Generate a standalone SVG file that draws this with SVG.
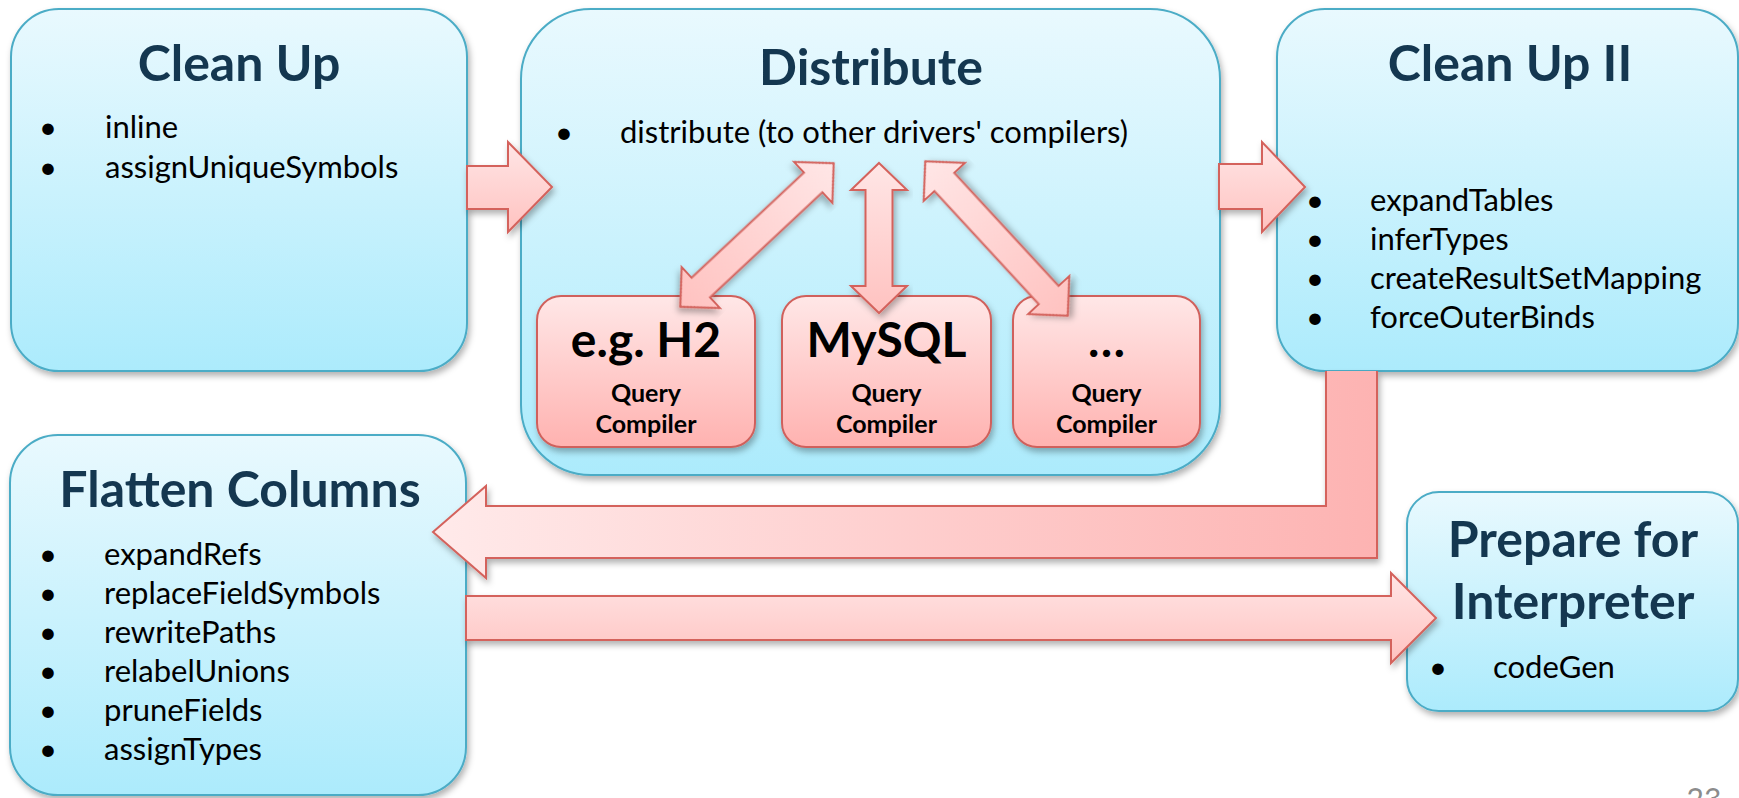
<svg xmlns="http://www.w3.org/2000/svg" width="1739" height="798" viewBox="0 0 1739 798">
<style>
.box{stroke:#4bacc6;stroke-width:2;fill:url(#gBlue);filter:url(#sh)}
.pbox{stroke:#d0615c;stroke-width:2;fill:url(#gPink);filter:url(#sh)}
.arr{stroke:#d4625c;stroke-width:2;fill:url(#gArr);filter:url(#sh);stroke-linejoin:miter}
.title{font-family:Lato,"Open Sans",sans-serif;font-weight:700;font-size:50px;fill:#143750;text-anchor:middle}
.item{font-family:Lato,"Open Sans",sans-serif;font-size:31px;fill:#000}
.dot{font-family:Lato,"Open Sans",sans-serif;font-size:31px;fill:#000;text-anchor:middle}
.big{font-family:Lato,"Open Sans",sans-serif;font-weight:700;font-size:48px;fill:#000;text-anchor:middle}
.small{font-family:Lato,"Open Sans",sans-serif;font-weight:700;font-size:25px;fill:#000;text-anchor:middle}
.pg{font-family:Lato,"Open Sans",sans-serif;font-size:30px;fill:#8c8c8c;text-anchor:middle}
</style>
<defs>
<linearGradient id="gBlue" x1="0" y1="0" x2="0" y2="1"><stop offset="0" stop-color="#e9f9fe"/><stop offset="1" stop-color="#acebfc"/></linearGradient>
<linearGradient id="gPink" x1="0" y1="0" x2="0" y2="1"><stop offset="0" stop-color="#ffe7e7"/><stop offset="1" stop-color="#ffb2b0"/></linearGradient>
<linearGradient id="gArr" x1="0" y1="0" x2="0" y2="1"><stop offset="0" stop-color="#ffe6e6"/><stop offset="1" stop-color="#ffc2c0"/></linearGradient>
<linearGradient id="gBend" gradientUnits="userSpaceOnUse" x1="433" y1="0" x2="1377" y2="0"><stop offset="0" stop-color="#ffeaea"/><stop offset="1" stop-color="#fdb3b2"/></linearGradient>
<filter id="sh" x="-10%" y="-10%" width="120%" height="130%"><feDropShadow dx="2" dy="4" stdDeviation="3" flood-color="#000" flood-opacity="0.3"/></filter>
</defs>

<g id="cleanup">
<rect class="box" x="11" y="9" width="456" height="362" rx="48"/>
<text class="title" x="239" y="81">Clean Up</text>
<text class="dot" x="48" y="138">•</text><text class="item" x="105" y="138">inline</text>
<text class="dot" x="48" y="178">•</text><text class="item" x="105" y="178">assignUniqueSymbols</text>
</g>

<g id="distribute">
<rect class="box" x="521" y="9" width="699" height="466" rx="70"/>
<text class="title" x="871" y="85">Distribute</text>
<text class="dot" x="564" y="143">•</text><text class="item" x="620" y="143">distribute (to other drivers' compilers)</text>
</g>

<g id="h2">
<rect class="pbox" x="537" y="296" width="218" height="151" rx="24"/>
<text class="big" x="646" y="357">e.g. H2</text>
<text class="small" x="646" y="402">Query</text>
<text class="small" x="646" y="433">Compiler</text>
</g>
<g id="mysql">
<rect class="pbox" x="782" y="296" width="209" height="151" rx="24"/>
<text class="big" x="886.5" y="357">MySQL</text>
<text class="small" x="886.5" y="402">Query</text>
<text class="small" x="886.5" y="433">Compiler</text>
</g>
<g id="other">
<rect class="pbox" x="1013" y="296" width="187" height="151" rx="24"/>
<text class="big" x="1106.5" y="357">…</text>
<text class="small" x="1106.5" y="402">Query</text>
<text class="small" x="1106.5" y="433">Compiler</text>
</g>

<g id="cleanup2">
<rect class="box" x="1277" y="9" width="461" height="362" rx="48"/>
<text class="title" x="1510" y="81">Clean Up II</text>
<text class="dot" x="1315" y="211">•</text><text class="item" x="1370" y="211">expandTables</text>
<text class="dot" x="1315" y="250">•</text><text class="item" x="1370" y="250">inferTypes</text>
<text class="dot" x="1315" y="289">•</text><text class="item" x="1370" y="289">createResultSetMapping</text>
<text class="dot" x="1315" y="328">•</text><text class="item" x="1370" y="328">forceOuterBinds</text>
</g>

<g id="flatten">
<rect class="box" x="10" y="435" width="456" height="360" rx="48"/>
<text class="title" x="240" y="507">Flatten Columns</text>
<text class="dot" x="48" y="565">•</text><text class="item" x="104" y="565">expandRefs</text>
<text class="dot" x="48" y="604">•</text><text class="item" x="104" y="604">replaceFieldSymbols</text>
<text class="dot" x="48" y="643">•</text><text class="item" x="104" y="643">rewritePaths</text>
<text class="dot" x="48" y="682">•</text><text class="item" x="104" y="682">relabelUnions</text>
<text class="dot" x="48" y="721">•</text><text class="item" x="104" y="721">pruneFields</text>
<text class="dot" x="48" y="760">•</text><text class="item" x="104" y="760">assignTypes</text>
</g>

<g id="prepare">
<rect class="box" x="1407" y="492" width="331" height="219" rx="32"/>
<text class="title" x="1573" y="557">Prepare for</text>
<text class="title" x="1573" y="619">Interpreter</text>
<text class="dot" x="1438" y="678">•</text><text class="item" x="1493" y="678">codeGen</text>
</g>

<g id="connectors">
<polygon class="arr" points="467,166 508,166 508,142 552,187 508,232 508,209 467,209"/>
<polygon class="arr" points="1219,164 1262,164 1262,142 1305,187 1262,232 1262,209 1219,209"/>
<path class="arr" style="fill:url(#gBend)" d="M1326,371 L1326,506 L486,506 L486,486 L433,532 L486,578 L486,558 L1377,558 L1377,371"/>
<polygon class="arr" points="466,596 1391,596 1391,573 1436,618 1391,663 1391,640 466,640"/>
<polygon class="arr" transform="translate(757,235) rotate(46.9)" points="0,-105 28,-77 13.5,-77 13.5,77 28,77 0,105 -28,77 -13.5,77 -13.5,-77 -28,-77"/>
<polygon class="arr" points="879,163 907,190 892.5,190 892.5,286 907,286 879,313 851,286 865.5,286 865.5,190 851,190"/>
<polygon class="arr" transform="translate(996.5,238.5) rotate(-42.7)" points="0,-105 28,-77 13.5,-77 13.5,77 28,77 0,105 -28,77 -13.5,77 -13.5,-77 -28,-77"/>
</g>

<text class="pg" x="1704" y="810">23</text>
</svg>
